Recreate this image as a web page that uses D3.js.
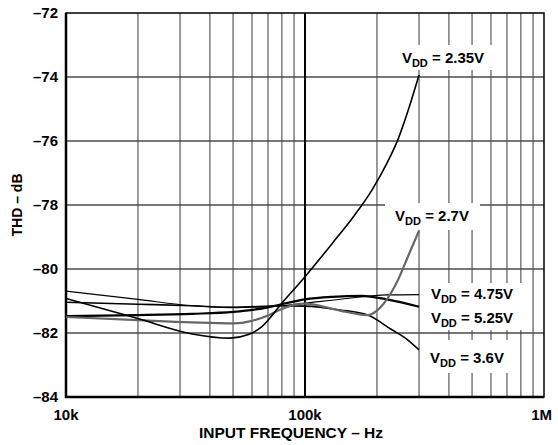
<!DOCTYPE html>
<html>
<head>
<meta charset="utf-8">
<script src="https://cdn.jsdelivr.net/npm/d3@7"></script>
<style>
  html, body { margin: 0; padding: 0; background: #fff; }
  svg { display: block; font-family: "Liberation Sans", Arial, sans-serif; font-weight: bold; }
</style>
</head>
<body>
<svg id="chart"></svg>
<script>
// THD vs input frequency, one curve per supply voltage
const freqTicks = [1e4, 1e5, 1e6];
const freqTickLabels = ['10k', '100k', '1M'];
const thdTicks = [-84, -82, -80, -78, -76, -74, -72];

const vdd235 = [[1e4, -80.92], [2e4, -81.55], [3.37e4, -82.03], [4.86e4, -82.16], [5.8e4, -82.05], [6.6e4, -81.8],
  [8e4, -81.07], [1e5, -80.24], [1.3e5, -79.2], [1.6e5, -78.35], [1.9e5, -77.55], [2.2e5, -76.7], [2.45e5, -75.95],
  [2.7e5, -75.05], [3e5, -73.94]];
const vdd27 = [[1e4, -81.5], [2e4, -81.6], [3.37e4, -81.67], [5e4, -81.7], [6e4, -81.62], [7e4, -81.45], [8e4, -81.25],
  [9e4, -81.12], [1e5, -81.08], [1.4e5, -81.3], [1.83e5, -81.44], [2e5, -81.3], [2.2e5, -80.95], [2.45e5, -80.34],
  [2.7e5, -79.6], [3e5, -78.8]];
const vdd36 = [[1e4, -81.04], [2e4, -81.1], [3.37e4, -81.15], [5e4, -81.2], [8e4, -81.15], [1e5, -81.16],
  [1.4e5, -81.28], [1.83e5, -81.44], [2.31e5, -81.9], [2.63e5, -82.16], [3e5, -82.53]];
const vdd475 = [[1e4, -80.69], [2e4, -80.95], [3.37e4, -81.15], [5e4, -81.2], [8e4, -81.15], [1e5, -81.07],
  [1.5e5, -80.92], [2.2e5, -80.81], [3e5, -80.8]];
const vdd525 = [[1e4, -81.47], [2e4, -81.44], [3.37e4, -81.4], [5e4, -81.34], [7e4, -81.2], [8e4, -81.1], [1e5, -80.95],
  [1.3e5, -80.87], [1.73e5, -80.84], [2.2e5, -80.95], [3e5, -81.18]];

const W = 558, H = 445;
const m = { l: 66, r: 14, t: 13, b: 48 };
const svg = d3.select('#chart').attr('width', W).attr('height', H);

const x = d3.scaleLog().domain([1e4, 1e6]).range([m.l, W - m.r]);
const y = d3.scaleLinear().domain([-84, -72]).range([H - m.b, m.t]);

// grid
const minor = [];
[1e4, 1e5].forEach(d => { for (let k = 2; k <= 9; k++) minor.push(d * k); });
const grid = svg.append('g');
grid.selectAll('.vx').data(minor).enter().append('line')
  .attr('x1', d => x(d)).attr('x2', d => x(d)).attr('y1', y(-72)).attr('y2', y(-84))
  .attr('stroke', '#666').attr('stroke-width', 1.3);
grid.selectAll('.hy').data(thdTicks.slice(1, -1)).enter().append('line')
  .attr('x1', x(1e4)).attr('x2', x(1e6)).attr('y1', d => y(d)).attr('y2', d => y(d))
  .attr('stroke', '#4a4a4a').attr('stroke-width', 1.4);
grid.append('line').attr('x1', x(1e5)).attr('x2', x(1e5)).attr('y1', y(-72)).attr('y2', y(-84))
  .attr('stroke', '#000').attr('stroke-width', 2);

// label boxes hide the grid behind the annotations
const boxes = [[393, 45, 100, 25], [385, 203, 95, 27], [421, 283, 102, 47], [421, 340, 91, 33]];
svg.append('g').selectAll('rect').data(boxes).enter().append('rect')
  .attr('x', d => d[0]).attr('y', d => d[1]).attr('width', d => d[2]).attr('height', d => d[3])
  .attr('fill', '#fff');

// frame
svg.append('rect').attr('x', m.l).attr('y', m.t).attr('width', W - m.r - m.l).attr('height', H - m.b - m.t)
  .attr('fill', 'none').attr('stroke', '#000').attr('stroke-width', 1.5);
svg.append('line').attr('x1', m.l).attr('x2', m.l).attr('y1', m.t).attr('y2', H - m.b + 1)
  .attr('stroke', '#000').attr('stroke-width', 2.5);
svg.append('line').attr('x1', m.l - 1).attr('x2', W - m.r).attr('y1', H - m.b).attr('y2', H - m.b)
  .attr('stroke', '#000').attr('stroke-width', 2.5);

// curves
const line = d3.line().x(d => x(d[0])).y(d => y(d[1])).curve(d3.curveMonotoneX);
const series = [
  { d: vdd475, c: '#000', w: 1.1 },
  { d: vdd525, c: '#000', w: 2.2 },
  { d: vdd36, c: '#000', w: 1.6 },
  { d: vdd27, c: '#666', w: 2.2 },
  { d: vdd235, c: '#000', w: 1.6 }
];
svg.append('g').selectAll('path').data(series).enter().append('path')
  .attr('d', s => line(s.d)).attr('fill', 'none')
  .attr('stroke', s => s.c).attr('stroke-width', s => s.w);

// ticks
svg.append('g').selectAll('text').data(thdTicks).enter().append('text')
  .attr('x', m.l - 8).attr('y', d => y(d)).attr('dy', '0.36em').attr('text-anchor', 'end')
  .attr('font-size', 15).text(d => '\u2013' + Math.abs(d));
svg.append('g').selectAll('text').data(freqTicks).enter().append('text')
  .attr('x', d => x(d)).attr('y', H - m.b + 23).attr('text-anchor', (d, i) => i === 2 ? 'end' : 'middle')
  .attr('dx', (d, i) => i === 2 ? 8 : 0)
  .attr('font-size', 15).text((d, i) => freqTickLabels[i]);

svg.append('text').attr('x', 291).attr('y', 438).attr('text-anchor', 'middle').attr('font-size', 15.5)
  .text('INPUT FREQUENCY \u2013 Hz');
svg.append('text').attr('transform', `translate(22,${(m.t + H - m.b) / 2}) rotate(-90)`)
  .attr('text-anchor', 'middle').attr('font-size', 14).text('THD \u2013 dB');

// annotations
const notes = [['2.35V', 443, 63], ['2.7V', 432, 221], ['4.75V', 472, 299], ['5.25V', 472, 323], ['3.6V', 467, 363]];
notes.forEach(n => {
  const t = svg.append('text').attr('x', n[1]).attr('y', n[2]).attr('text-anchor', 'middle').attr('font-size', 15);
  t.append('tspan').text('V');
  t.append('tspan').attr('font-size', 11).attr('dy', 4).text('DD');
  t.append('tspan').attr('dy', -4).text(' = ' + n[0]);
});
</script>
</body>
</html>
